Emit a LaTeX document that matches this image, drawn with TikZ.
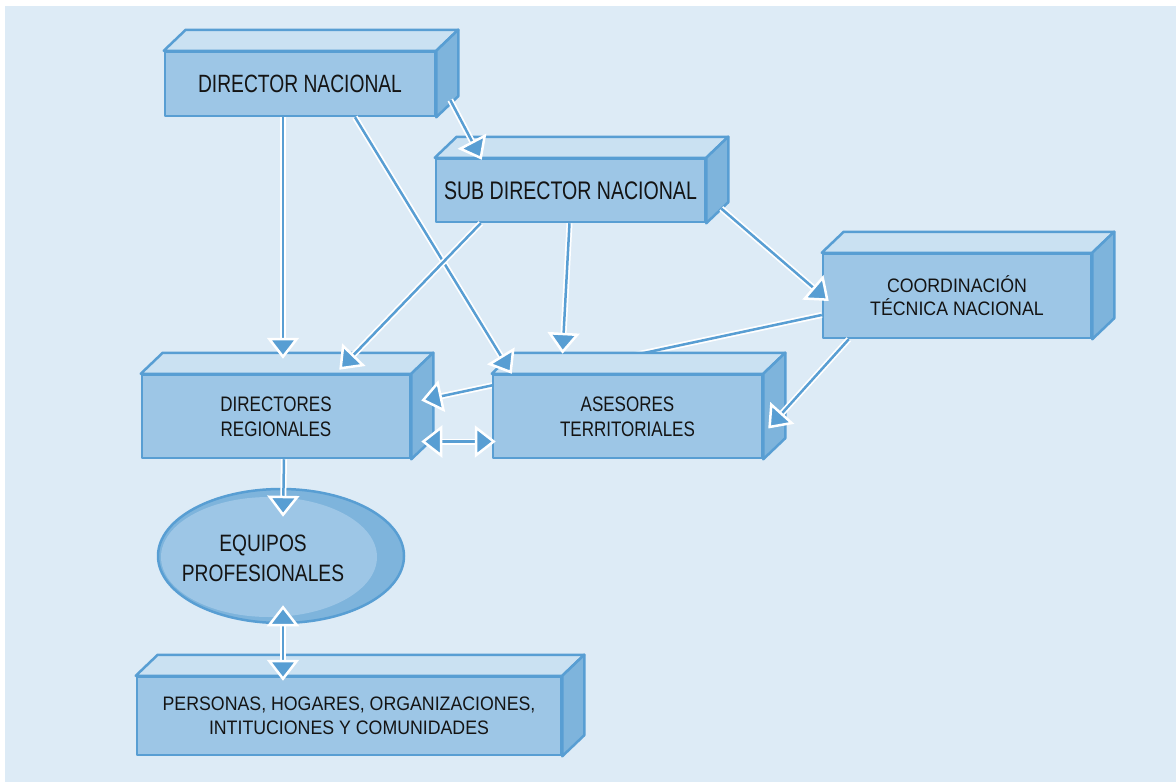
\documentclass[tikz,border=0pt]{standalone}
\usepackage{fontspec}
\setmainfont{Liberation Sans}[FakeStretch=0.77]
\newfontfamily\medianaf{Liberation Sans}[FakeStretch=0.81]
\newfontfamily\anchaf{Liberation Sans}[FakeStretch=0.91]
\usetikzlibrary{arrows.meta,calc,shapes.geometric}

\definecolor{cFondo}{RGB}{221,235,246}
\definecolor{cFrente}{RGB}{157,198,230}
\definecolor{cTapa}{RGB}{202,225,242}
\definecolor{cLado}{RGB}{126,180,220}
\definecolor{cBorde}{RGB}{88,158,211}

\begin{document}
\begin{tikzpicture}[x=1pt,y=-1pt,
  caja/.style={draw=cBorde, fill=cFrente, line width=2.5pt, line join=round, inner sep=0pt, align=center, text=black!92},
  caratapa/.style={draw=cBorde, fill=cTapa, line width=2.5pt, line join=round},
  caralado/.style={draw=cBorde, fill=cLado, line width=2.5pt, line join=round},
  punta/.style={-{Triangle[length=21pt,width=32pt,color=white,fill=cBorde,line width=2.5pt]}},
  puntas/.style={{Triangle[length=21pt,width=32pt,color=white,fill=cBorde,line width=2.5pt]}-{Triangle[length=21pt,width=32pt,color=white,fill=cBorde,line width=2.5pt]}},
  flecha/.style={draw=cBorde, line width=2.5pt, punta,
    preaction={draw=white, line width=6pt, -, shorten >=12pt}},
  flechas/.style={draw=cBorde, line width=2.5pt, puntas,
    preaction={draw=white, line width=6pt, -, shorten >=12pt, shorten <=12pt}}]
\useasboundingbox (0,0) rectangle (1176,782);

%fondo
\fill[cFondo] (5,6) rectangle (1176,782);

%Cajas
\node[caja, minimum width=270pt, minimum height=64pt, font=\fontsize{25}{30}\selectfont] (dn) at (300,84) {DIRECTOR NACIONAL};
\node[caja, minimum width=269pt, minimum height=63pt, font=\fontsize{25.4}{30}\selectfont] (sdn) at (570.5,190.5) {SUB DIRECTOR NACIONAL};
\node[caja, minimum width=268pt, minimum height=84pt, font=\anchaf\fontsize{19.5}{23}\selectfont] (ctn) at (957,296) {COORDINACIÓN\\TÉCNICA NACIONAL};
\node[caja, minimum width=268pt, minimum height=83pt, font=\medianaf\fontsize{21}{25}\selectfont] (dr) at (276,416.5) {DIRECTORES\\REGIONALES};
\node[caja, minimum width=424pt, minimum height=78pt, font=\anchaf\fontsize{19.5}{24}\selectfont] (pho) at (349,716) {PERSONAS, HOGARES, ORGANIZACIONES,\\INTITUCIONES Y COMUNIDADES};

\foreach \n in {dn,sdn,ctn,dr,pho}{
  \draw[caratapa] (\n.north west) -- ++(22,-21) -- ($(\n.north east)+(22,-21)$) -- (\n.north east) -- cycle;
  \draw[caralado] (\n.north east) -- ++(22,-21) -- ($(\n.south east)+(22,-21)$) -- (\n.south east) -- cycle;
}

%Elipse
\node[ellipse, draw=cBorde, fill=cLado, line width=2.5pt, inner sep=0pt, minimum width=246pt, minimum height=134pt] (ep) at (281,556) {};
\fill[cFrente] (269,557) ellipse [x radius=108, y radius=60];
\node[align=center, text=black!92, font=\medianaf\fontsize{23.7}{30}\selectfont] (eptxt) at (263,558) {EQUIPOS\\PROFESIONALES};

% pasa por detras de asesores
\draw[flecha] ([yshift=-19pt]ctn.west) -- ([xshift=10pt,yshift=16pt]dr.east);

\node[caja, minimum width=269pt, minimum height=83pt, font=\medianaf\fontsize{21}{25}\selectfont] (at) at (627.5,416.5) {ASESORES\\TERRITORIALES};
\draw[caratapa] (at.north west) -- ++(22,-21) -- ($(at.north east)+(22,-21)$) -- (at.north east) -- cycle;
\draw[caralado] (at.north east) -- ++(22,-21) -- ($(at.south east)+(22,-21)$) -- (at.south east) -- cycle;

%Flechas
\draw[flecha] ([xshift=-17pt]dn.south) -- ([xshift=7pt,yshift=15pt]dr.north);
\draw[flecha] ([xshift=55pt]dn.south) -- ([xshift=20pt]at.north west);
\draw[flecha] ([xshift=14pt,yshift=-16pt]dn.east) -- ([xshift=47pt,yshift=-2pt]sdn.north west);
\draw[flecha] ([xshift=46pt]sdn.south west) -- ([xshift=-72pt,yshift=4pt]dr.north east);
\draw[flecha] ([xshift=-1pt]sdn.south) -- ([xshift=-65pt,yshift=20pt]at.north);
\draw[flecha] ([xshift=15pt,yshift=-18pt]sdn.east) -- ([xshift=7pt,yshift=-5pt]ctn.west);
\draw[flecha] ([xshift=27pt]ctn.south west) -- ([xshift=5pt,yshift=-12pt]at.east);
\draw[flechas] ([xshift=10pt,yshift=-25pt]dr.east) -- ([xshift=4pt,yshift=-25pt]at.west);
\draw[flecha] ([xshift=8pt]dr.south) -- ([xshift=2pt,yshift=-29pt]ep.north);
\draw[flechas] ([xshift=2pt,yshift=19pt]ep.south) -- ([xshift=-66pt,yshift=-5pt]pho.north);

\end{tikzpicture}
\end{document}
